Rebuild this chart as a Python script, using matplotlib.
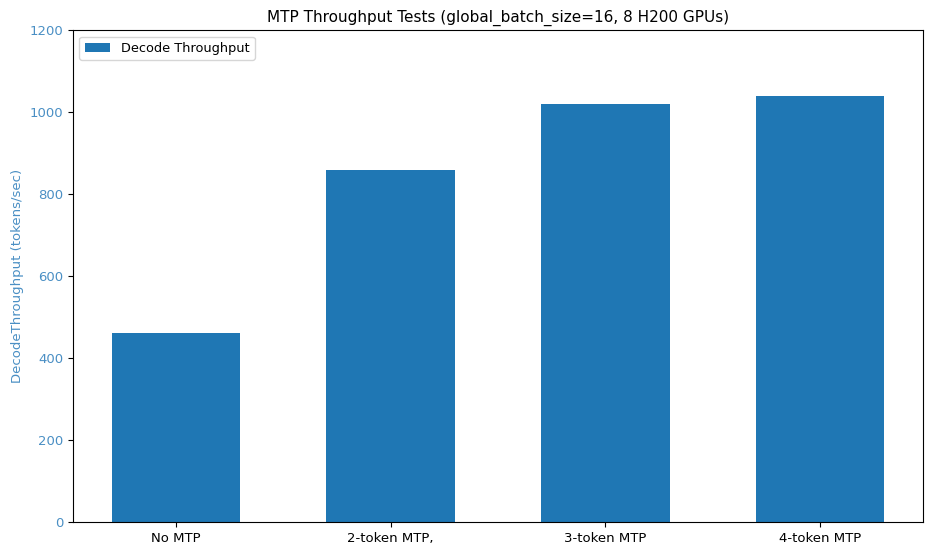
import matplotlib
matplotlib.use("Agg")
import matplotlib.pyplot as plt

labels = ["No MTP", "2-token MTP,", "3-token MTP", "4-token MTP"]
decode_throughput = [460, 858, 1021, 1039]

label_color = "#4a8fc4"

fig, ax = plt.subplots(figsize=(9.3, 5.5), dpi=100)
fig.subplots_adjust(left=0.0785, right=0.9925, bottom=0.051, top=0.945)

ax.bar(labels, decode_throughput, width=0.6, color="tab:blue", label="Decode Throughput")
ax.set_ylim(0, 1200)
ax.set_ylabel("DecodeThroughput (tokens/sec)", color=label_color, fontsize=9.5)
ax.tick_params(axis="y", labelcolor=label_color, labelsize=9.5)
ax.tick_params(axis="x", labelsize=9.5)
ax.set_title("MTP Throughput Tests (global_batch_size=16, 8 H200 GPUs)", fontsize=11)
ax.legend(loc="upper left", fontsize=9.3)

plt.savefig("out.png")
